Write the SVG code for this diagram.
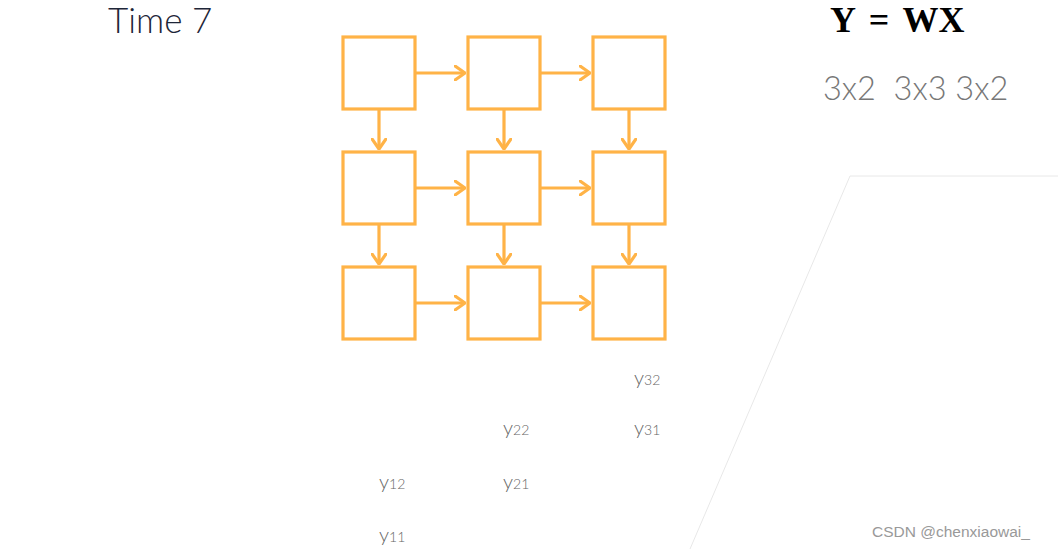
<svg xmlns="http://www.w3.org/2000/svg" width="1058" height="549" viewBox="0 0 1058 549">
<defs>
<style>
.box{fill:#fff;stroke:#FFB347;stroke-width:3.2;}
.con{stroke:#FFB347;stroke-width:3.2;fill:none;}
.lbl{font-family:"Source Sans Pro","Lato","Noto Sans",sans-serif;font-weight:300;fill:#666;font-size:20px;}
.sub{font-size:14px;}
</style>
<marker id="ah" viewBox="0 0 12 16" refX="11" refY="8" markerWidth="12" markerHeight="16" markerUnits="userSpaceOnUse" orient="auto">
<path d="M1,1 L11,8 L1,15" fill="none" stroke="#FFB347" stroke-width="3.2" stroke-linecap="round" stroke-linejoin="round"/>
</marker>
</defs>
<rect width="1058" height="549" fill="#fff"/>
<path d="M690,549 L850,176 L1058,176" fill="none" stroke="#e8e8e8" stroke-width="1"/>
<text x="108" y="33" font-family="Lato,'Noto Sans',sans-serif" font-weight="300" font-size="35" fill="#1e2638">Time 7</text>
<text x="830" y="32" font-family="'Liberation Serif',serif" font-weight="bold" font-size="36" fill="#000" style="white-space:pre" word-spacing="5">Y = WX</text>
<text x="823" y="100" font-family="Lato,'Noto Sans',sans-serif" font-weight="300" font-size="32.5" fill="#777" style="white-space:pre">3x2  3x3 3x2</text>
<g id="connectors">
<line class="con" x1="416" y1="73" x2="465" y2="73" marker-end="url(#ah)"/>
<line class="con" x1="541" y1="73" x2="590" y2="73" marker-end="url(#ah)"/>
<line class="con" x1="416" y1="188" x2="465" y2="188" marker-end="url(#ah)"/>
<line class="con" x1="541" y1="188" x2="590" y2="188" marker-end="url(#ah)"/>
<line class="con" x1="416" y1="303" x2="465" y2="303" marker-end="url(#ah)"/>
<line class="con" x1="541" y1="303" x2="590" y2="303" marker-end="url(#ah)"/>
<line class="con" x1="379" y1="110" x2="379" y2="149" marker-end="url(#ah)"/>
<line class="con" x1="504" y1="110" x2="504" y2="149" marker-end="url(#ah)"/>
<line class="con" x1="629" y1="110" x2="629" y2="149" marker-end="url(#ah)"/>
<line class="con" x1="379" y1="225" x2="379" y2="264" marker-end="url(#ah)"/>
<line class="con" x1="504" y1="225" x2="504" y2="264" marker-end="url(#ah)"/>
<line class="con" x1="629" y1="225" x2="629" y2="264" marker-end="url(#ah)"/>
</g>
<g id="n11"><rect class="box" x="343" y="37" width="72" height="72"/></g>
<g id="n12"><rect class="box" x="468" y="37" width="72" height="72"/></g>
<g id="n13"><rect class="box" x="593" y="37" width="72" height="72"/></g>
<g id="n21"><rect class="box" x="343" y="152" width="72" height="72"/></g>
<g id="n22"><rect class="box" x="468" y="152" width="72" height="72"/></g>
<g id="n23"><rect class="box" x="593" y="152" width="72" height="72"/></g>
<g id="n31"><rect class="box" x="343" y="267" width="72" height="72"/></g>
<g id="n32"><rect class="box" x="468" y="267" width="72" height="72"/></g>
<g id="n33"><rect class="box" x="593" y="267" width="72" height="72"/></g>
<text class="lbl" x="634" y="385">y<tspan class="sub">32</tspan></text>
<text class="lbl" x="634" y="435">y<tspan class="sub">31</tspan></text>
<text class="lbl" x="503" y="435">y<tspan class="sub">22</tspan></text>
<text class="lbl" x="503" y="489">y<tspan class="sub">21</tspan></text>
<text class="lbl" x="379" y="489">y<tspan class="sub">12</tspan></text>
<text class="lbl" x="379" y="542">y<tspan class="sub">11</tspan></text>
<text x="872" y="537" font-family="'Liberation Sans',Arial,sans-serif" font-size="15.5" fill="#999">CSDN @chenxiaowai_</text>
</svg>
